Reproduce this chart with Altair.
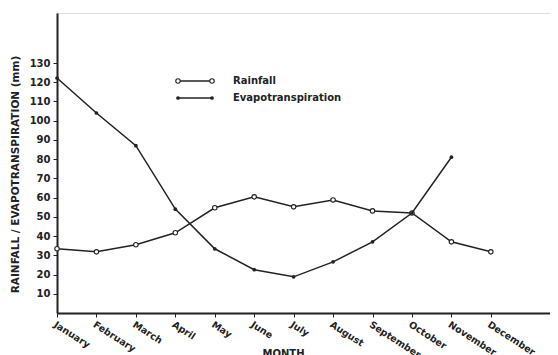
import altair as alt
import pandas as pd

months = ["January", "February", "March", "April", "May", "June", "July",
          "August", "September", "October", "November", "December"]
rainfall = [33.4, 31.8, 35.5, 41.7, 54.7, 60.4, 55.2, 58.8, 53.1, 52.0, 37.0, 31.8]
evapotranspiration = [122.2, 104.0, 87.0, 54.0, 33.4, 22.5, 18.8, 26.6, 37.0, 52.0, 81.0]
series_names = ["Rainfall", "Evapotranspiration"]
y_ticks = [10, 20, 30, 40, 50, 60, 70, 80, 90, 100, 110, 120, 130]

rows = []
for i, v in enumerate(rainfall):
    rows.append({"idx": i, "month": months[i], "series": series_names[0], "value": v})
for i, v in enumerate(evapotranspiration):
    rows.append({"idx": i, "month": months[i], "series": series_names[1], "value": v})
df = pd.DataFrame(rows)

FONT = "DejaVu Sans"
INK = "#222222"
label_expr = "[" + ",".join(f"'{m}'" for m in months) + "][datum.value]"

x_enc = alt.X(
    "idx:Q",
    scale=alt.Scale(domain=[0, 12.5], nice=False, zero=False),
    axis=alt.Axis(
        values=list(range(12)), labelExpr=label_expr, labelAngle=33,
        labelAlign="left", labelBaseline="top", labelPadding=2,
        labelOverlap=False, labelFlush=False, labelBound=False,
        labelFont=FONT, labelFontWeight="bold", labelFontSize=9.5, labelColor=INK,
        tickSize=4, tickColor=INK, domainColor=INK, domainWidth=2, grid=False,
        title="MONTH", titleFont=FONT, titleFontWeight="bold", titleFontSize=10,
        titleColor=INK, titleX=226, titleY=35, titleBaseline="top", titleAlign="center",
    ),
)
y_enc = alt.Y(
    "value:Q",
    scale=alt.Scale(domain=[0, 156], nice=False),
    axis=alt.Axis(
        values=y_ticks, labelFont=FONT, labelFontWeight="bold", labelFontSize=10,
        labelColor=INK, labelPadding=3, tickSize=4, tickColor=INK,
        domainColor=INK, domainWidth=2, grid=False,
        title="RAINFALL / EVAPOTRANSPIRATION (mm)", titleFont=FONT,
        titleFontWeight="bold", titleFontSize=10.5, titleColor=INK,
        titleX=-37, titleY=161, titleAngle=-90, titleAlign="center",
        titleBaseline="bottom",
    ),
)

layers = []
for name, filled in zip(series_names, [False, True]):
    sub = df[df["series"] == name]
    base = alt.Chart(sub).encode(x=x_enc, y=y_enc)
    layers.append(base.mark_line(color=INK, strokeWidth=1.5))
    if filled:
        layers.append(base.mark_point(filled=True, color=INK, size=14, opacity=1))
    else:
        layers.append(base.mark_point(filled=False, color=INK, fill="white",
                                      size=20, strokeWidth=1.1, opacity=1))

# in-plot legend
legend_rows = [(series_names[0], 68, False), (series_names[1], 85, True)]
for name, ypix, filled in legend_rows:
    ld = pd.DataFrame({"series": [name]})
    lb = alt.Chart(ld)
    layers.append(lb.mark_rule(color=INK, strokeWidth=1.5).encode(
        x=alt.value(121), x2=alt.value(155), y=alt.value(ypix)))
    for xp in (121, 155):
        if filled:
            pm = lb.mark_point(filled=True, color=INK, size=14, opacity=1)
        else:
            pm = lb.mark_point(filled=False, color=INK, fill="white", size=20,
                               strokeWidth=1.1, opacity=1)
        layers.append(pm.encode(x=alt.value(xp), y=alt.value(ypix)))
    layers.append(lb.mark_text(font=FONT, fontWeight="bold", fontSize=10, color=INK,
                               align="left", baseline="middle").encode(
        x=alt.value(176), y=alt.value(ypix), text="series:N"))

chart = alt.layer(*layers).properties(
    width=493, height=300,
    autosize=alt.AutoSizeParams(type="none"),
    padding={"left": 49, "top": 5, "right": 0, "bottom": 52},
).configure_view(stroke=None).configure(background="white")

chart.save("out.html", embed_options={"renderer": "svg", "actions": False})
